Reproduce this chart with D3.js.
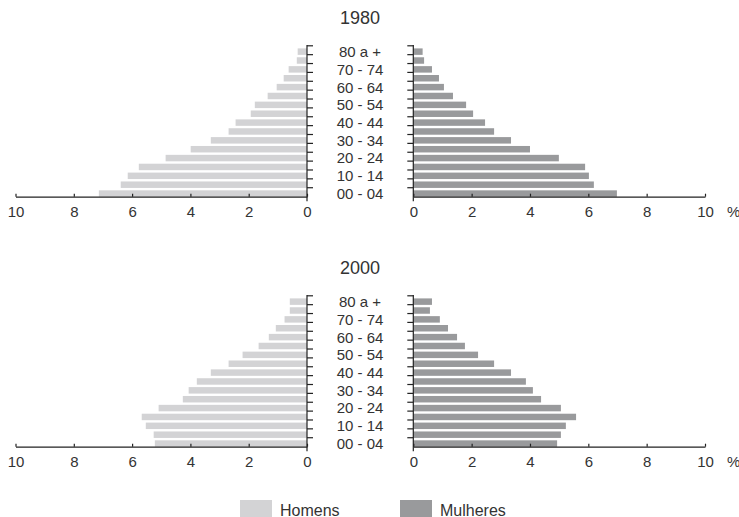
<!DOCTYPE html>
<html>
<head>
<meta charset="utf-8">
<script src="https://cdn.jsdelivr.net/npm/d3@7"></script>
<style>
  body { margin: 0; background: #fff; }
  svg { font-family: "Liberation Sans", Arial, sans-serif; }
  .axis path, .axis line { stroke: #222; }
  .axis text { font-size: 15px; fill: #333; }
</style>
</head>
<body>
<svg id="chart" width="739" height="517"></svg>
<script>
// age groups, youngest first
var ages = ['00 - 04','05 - 09','10 - 14','15 - 19','20 - 24','25 - 29','30 - 34','35 - 39',
            '40 - 44','45 - 49','50 - 54','55 - 59','60 - 64','65 - 69','70 - 74','75 - 79','80 a +'];
var years = ['1980', '2000'];
var homens1980   = [7.14, 6.39, 6.15, 5.77, 4.85, 3.99, 3.30, 2.69, 2.45, 1.93, 1.79, 1.35, 1.04, 0.80, 0.63, 0.35, 0.32];
var mulheres1980 = [6.98, 6.19, 6.02, 5.89, 4.99, 4.00, 3.35, 2.77, 2.46, 2.05, 1.81, 1.36, 1.05, 0.88, 0.64, 0.37, 0.32];
var homens2000   = [5.22, 5.26, 5.53, 5.67, 5.09, 4.26, 4.06, 3.78, 3.30, 2.69, 2.21, 1.66, 1.31, 1.07, 0.77, 0.59, 0.59];
var mulheres2000 = [4.93, 5.06, 5.23, 5.58, 5.06, 4.38, 4.10, 3.86, 3.35, 2.77, 2.22, 1.77, 1.50, 1.19, 0.91, 0.57, 0.64];
var xTicks = [0, 2, 4, 6, 8, 10];
var legendLabels = ['Homens', 'Mulheres'];

var colH = '#d3d3d5', colM = '#999a9c';
var svg = d3.select('#chart');

var xL = d3.scaleLinear().domain([0, 10]).range([307, 15.5]);
var xR = d3.scaleLinear().domain([0, 10]).range([413.3, 705]);

function drawPyramid(year, homens, mulheres, off) {
  var g = svg.append('g').attr('transform', 'translate(0,' + off + ')');
  var base = 196.7;
  var y = d3.scaleBand().domain(ages).range([198, 47.2]).paddingInner(0.27).paddingOuter(0.135);

  g.append('text').attr('x', 360).attr('y', 24)
    .attr('text-anchor', 'middle').style('font-size', '18px').style('fill', '#333')
    .text(year);

  g.selectAll('.bar-h').data(ages).enter().append('rect')
    .attr('class', 'bar-h')
    .attr('x', function(d, i) { return xL(homens[i]); })
    .attr('y', function(d) { return y(d); })
    .attr('width', function(d, i) { return xL(0) - xL(homens[i]); })
    .attr('height', y.bandwidth())
    .style('fill', colH);

  g.selectAll('.bar-m').data(ages).enter().append('rect')
    .attr('class', 'bar-m')
    .attr('x', xR(0))
    .attr('y', function(d) { return y(d); })
    .attr('width', function(d, i) { return xR(mulheres[i]) - xR(0); })
    .attr('height', y.bandwidth())
    .style('fill', colM);

  // x axes
  g.append('g').attr('class', 'axis').attr('transform', 'translate(0,' + base + ')')
    .call(d3.axisBottom(xL).tickValues(xTicks).tickSizeInner(-3).tickSizeOuter(0).tickPadding(10))
    .select('.domain').attr('stroke-width', 1.2);
  g.append('g').attr('class', 'axis').attr('transform', 'translate(0,' + base + ')')
    .call(d3.axisBottom(xR).tickValues(xTicks).tickSizeInner(-3).tickSizeOuter(0).tickPadding(10))
    .select('.domain').attr('stroke-width', 1.2);
  g.selectAll('.axis .tick line').attr('stroke-width', 1.2);

  // y axis lines with small outward ticks
  [[xL(0), 6], [xR(0), -6]].forEach(function(a) {
    g.append('line').attr('x1', a[0]).attr('x2', a[0]).attr('y1', 45).attr('y2', base + 4.5)
      .attr('stroke', '#222').attr('stroke-width', 1.2);
    g.selectAll(null).data(ages).enter().append('line')
      .attr('x1', a[0]).attr('x2', a[0] + a[1])
      .attr('y1', function(d) { return y(d) - 2.6; })
      .attr('y2', function(d) { return y(d) - 2.6; })
      .attr('stroke', '#222').attr('stroke-width', 1.2);
  });

  // age labels, every other group
  g.selectAll('.age').data(ages.filter(function(d, i) { return i % 2 === 0; }))
    .enter().append('text').attr('class', 'age')
    .attr('x', 360)
    .attr('y', function(d) { return y(d) + y.bandwidth() / 2; })
    .attr('dy', '0.36em')
    .attr('text-anchor', 'middle')
    .style('font-size', '15px').style('fill', '#333')
    .text(function(d) { return d; });

  g.append('text').attr('x', 727).attr('y', 217.4)
    .style('font-size', '15px').style('fill', '#333').text('%');
}

drawPyramid(years[0], homens1980, mulheres1980, 0);
drawPyramid(years[1], homens2000, mulheres2000, 250);

// legend
var leg = svg.selectAll('.leg').data(legendLabels).enter().append('g')
  .attr('class', 'leg')
  .attr('transform', function(d, i) { return 'translate(' + (240 + i * 160) + ',500)'; });
leg.append('rect').attr('width', 32).attr('height', 17)
  .style('fill', function(d, i) { return i === 0 ? colH : colM; });
leg.append('text').attr('x', 40).attr('y', 15.5)
  .style('font-size', '16px').style('fill', '#333')
  .text(function(d) { return d; });
</script>
</body>
</html>
